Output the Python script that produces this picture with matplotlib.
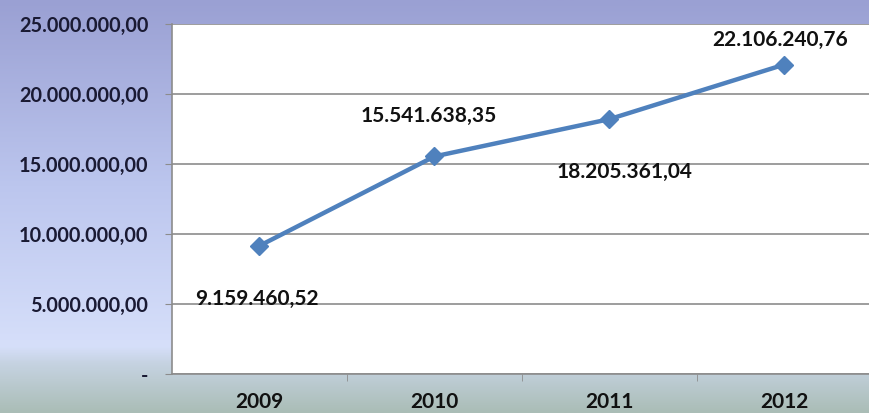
import numpy as np
import matplotlib.pyplot as plt
from matplotlib.colors import LinearSegmentedColormap
from matplotlib.ticker import FuncFormatter

#------------------------------------------------------------------
# data
#------------------------------------------------------------------
years = ["2009", "2010", "2011", "2012"]
values = [9159460.52, 15541638.35, 18205361.04, 22106240.76]
label_text = ["9.159.460,52", "15.541.638,35", "18.205.361,04", "22.106.240,76"]
yticks = [0, 5000000, 10000000, 15000000, 20000000, 25000000]


def br_format(v, pos):
    if v == 0:
        return "-"
    s = "{:,.2f}".format(v)
    return s.replace(",", "X").replace(".", ",").replace("X", ".")


plt.rcParams['font.family'] = ['Lato', 'DejaVu Sans']

fig = plt.figure(figsize=(8.7, 4.13), dpi=100)

# background gradient
bg = fig.add_axes([0, 0, 1, 1], zorder=-10)
bg_cmap = LinearSegmentedColormap.from_list(
    "bg", [(0.0, "#9aa0d3"), (0.45, "#bcc6ee"), (0.84, "#d6dffa"),
           (0.88, "#c6d3e2"), (1.0, "#aabdb6")])
bg.imshow(np.linspace(0, 1, 256).reshape(-1, 1), aspect="auto", cmap=bg_cmap,
          extent=[0, 1, 0, 1])
bg.axis("off")

ax = fig.add_axes([172 / 870, 39 / 413, 700 / 870, 350 / 413])
ax.set_facecolor("white")

x = np.arange(len(years))
ax.plot(x, values, color="#4f81bd", lw=3.2, marker="D", markersize=9.5,
        markerfacecolor="#4f81bd", markeredgecolor="#4f81bd", zorder=3)

# label offsets in points (label centre relative to point)
label_dx = [-2, -4, 11, -3]
label_dy = [-38, 29, -38, 18]
for xi, v, txt, dx, dy in zip(x, values, label_text, label_dx, label_dy):
    ax.annotate(txt, (xi, v), xytext=(dx, dy), textcoords="offset points",
                ha="center", va="center", fontsize=15, fontweight="bold",
                color="#111111")

ax.set_xlim(-0.5, 3.5)
ax.set_ylim(0, 25000000)
ax.set_yticks(yticks)
ax.yaxis.set_major_formatter(FuncFormatter(br_format))
ax.set_xticks(x)
ax.set_xticklabels(years)
ax.set_xticks([0.5, 1.5, 2.5, 3.5], minor=True)
ax.grid(axis="y", color="#8c8c8c", lw=1.2)
ax.set_axisbelow(True)

for side in ["top", "right"]:
    ax.spines[side].set_visible(False)
ax.spines["left"].set_color("#8c8c8c")
ax.spines["bottom"].set_color("#8c8c8c")
ax.spines["left"].set_linewidth(1.2)
ax.spines["bottom"].set_linewidth(1.2)

ax.tick_params(axis="y", length=5, color="#8c8c8c", pad=12, labelsize=14.3,
               labelcolor="#1a1a33")
ax.tick_params(axis="x", which="major", length=0, pad=13, labelsize=15,
               labelcolor="#111111")
ax.tick_params(axis="x", which="minor", length=5, color="#8c8c8c")
for lab in ax.get_yticklabels() + ax.get_xticklabels():
    lab.set_fontweight("bold")

plt.savefig("out.png", dpi=100)
